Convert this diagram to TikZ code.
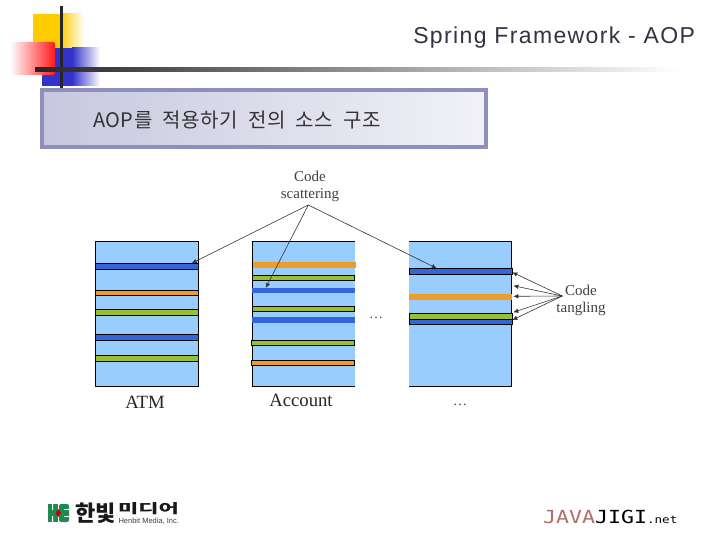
\documentclass[tikz,border=0pt]{standalone}
\usepackage{fontspec}
\setmainfont{Liberation Serif}
\newfontfamily\titlefont[LetterSpace=6]{Liberation Sans}
\newfontfamily\smallfont{Liberation Sans}
\newfontfamily\krfont[LetterSpace=3, WordSpace=2]{Noto Sans CJK KR}
\newfontfamily\logofont{Noto Sans CJK KR}
\newfontfamily\monofont{DejaVu Sans Mono}
\usetikzlibrary{arrows.meta, positioning}
\definecolor{skyfill}{HTML}{99CCFF}
\definecolor{bluebar}{HTML}{3366DD}
\definecolor{orangebar}{HTML}{F09C28}
\definecolor{greenbar}{HTML}{99C030}
\definecolor{framecol}{HTML}{8F8FBF}
\definecolor{javacol}{HTML}{B07068}
\definecolor{logogreen}{HTML}{1E8A50}
\definecolor{cornergold}{HTML}{FFCC00}
\definecolor{cornerblue}{HTML}{3333CC}
\definecolor{titlecol}{HTML}{333344}

\begin{document}
\begin{tikzpicture}[x=1pt, y=-1pt,
    every node/.style={inner sep=0pt, outer sep=0pt},
    column/.style={rectangle, fill=skyfill, minimum width=103pt, minimum height=145pt, anchor=north west},
    band/.style={rectangle, draw=black, line width=0.7pt, minimum width=103pt, anchor=north west},
    plainband/.style={band, draw=none},
    label/.style={font=\fontsize{15}{15}\selectfont, text=black!75},
    caption/.style={font=\fontsize{18.7}{19}\selectfont, text=black!85},
    arrow/.style={-{Latex[length=5pt, width=4.5pt]}, line width=0.6pt, black!80}]

  \useasboundingbox (0,0) rectangle (720,540);
  \fill[white] (0,0) rectangle (720,540);

  % corner squares
  \shade[left color=cornergold, right color=white] (60,14) rectangle (84,48);
  \fill[cornergold] (33,14) rectangle (60,48);
  \shade[left color=cornerblue, right color=white] (72,48) rectangle (100,86);
  \fill[cornerblue] (42,48) rectangle (72,86);
  \shade[rounded corners=2pt, left color=white, right color=red!90] (10,42) rectangle (55,75);
  \fill[black!85] (59.5,6) rectangle (62.5,88);
  \shade[left color=black!85, right color=white] (35,68) rectangle (680,72);

  \node[font=\titlefont\fontsize{23}{23}\selectfont, text=titlecol, anchor=east] (title) at (695,38) {Spring Framework - AOP};

  \node[rectangle, draw=framecol, line width=4pt, left color=framecol!50, right color=framecol!12, minimum width=444pt, minimum height=57pt, anchor=north west] (subject) at (42,90) {};
  \node[font=\krfont\fontsize{20}{20}\selectfont, text=black!80, anchor=west] (subjecttext) at (93,120) {AOP를 적용하기 전의 소스 구조};

  % ATM
  \node[column, draw=black, line width=0.7pt] (atm) at (95.3,241) {};
  \node[band, fill=bluebar, minimum height=6pt] (atmA) at (95.3,263.3) {};
  \node[band, fill=orangebar, minimum height=5pt] (atmB) at (95.3,290.3) {};
  \node[band, fill=greenbar, minimum height=5.6pt] (atmC) at (95.3,309.7) {};
  \node[band, fill=bluebar, minimum height=6pt] (atmD) at (95.3,334.3) {};
  \node[band, fill=greenbar, minimum height=5.6pt] (atmE) at (95.3,355.7) {};
  \node[caption] (atmlabel) at (145,402) {ATM};

  % Account
  \node[column] (account) at (252.3,241) {};
  \draw[line width=0.7pt] (355,241) -- (252.3,241) -- (252.3,386) -- (355,386);
  \node[plainband, fill=orangebar, minimum height=5.7pt] (accA) at (252.8,262.3) {};
  \node[band, fill=greenbar, minimum height=4.6pt, minimum width=102.5pt] (accB) at (252.3,275.7) {};
  \node[plainband, fill=bluebar, minimum height=5pt] (accC) at (252.3,288.3) {};
  \node[band, fill=greenbar, minimum height=5pt, minimum width=102.5pt] (accD) at (252.3,306.3) {};
  \node[plainband, fill=bluebar, minimum height=5.4pt] (accE) at (252.3,317.3) {};
  \node[band, fill=greenbar, minimum height=5.4pt] (accF) at (251.3,340.3) {};
  \node[band, fill=orangebar, minimum height=5pt] (accG) at (251.3,360.3) {};
  \node[caption] (acclabel) at (301,400) {Account};
  \node[font=\fontsize{14}{14}\selectfont, text=black!75] (dotsmid) at (376,318) {…};

  % third class
  \node[column] (third) at (409,241.5) {};
  \draw[line width=0.7pt] (409,241.5) -- (511.7,241.5) -- (511.7,386.5) -- (409,386.5);
  \node[band, fill=bluebar, minimum height=6pt] (thirdA) at (409,268.3) {};
  \node[plainband, fill=orangebar, minimum height=5.7pt] (thirdB) at (409,294) {};
  \node[band, fill=bluebar, minimum height=5.4pt] (thirdD) at (409,319.3) {};
  \node[band, fill=greenbar, minimum height=6pt] (thirdC) at (409,313.3) {};
  \node[font=\fontsize{14}{14}\selectfont, text=black!75] (dotsbottom) at (460,405) {…};

  % labels
  \node[label] (codeA) at (310,176) {Code};
  \node[label, below=7pt of codeA] (scattering) {scattering};
  \coordinate (scatterfrom) at (308.3,205);
  \node[label] (codeB) at (581,290) {Code};
  \node[label, below=7pt of codeB] (tangling) {tangling};
  \coordinate (tanglefrom) at (562.3,296);

  \coordinate (scatterA) at (191.7,263.3);
  \coordinate (scatterB) at (265.7,288);
  \coordinate (scatterC) at (436.7,268.3);
  \coordinate (tangleA) at (512.3,272.3);
  \coordinate (tangleB) at (513.3,285.7);
  \coordinate (tangleC) at (513.3,296.3);
  \coordinate (tangleD) at (513.3,312.3);
  \coordinate (tangleE) at (512.3,320);

  \draw[arrow] (scatterfrom) -- (scatterA);
  \draw[arrow] (scatterfrom) -- (scatterB);
  \draw[arrow] (scatterfrom) -- (scatterC);
  \draw[arrow] (tanglefrom) -- (tangleA);
  \draw[arrow] (tanglefrom) -- (tangleB);
  \draw[arrow] (tanglefrom) -- (tangleC);
  \draw[arrow] (tanglefrom) -- (tangleD);
  \draw[arrow] (tanglefrom) -- (tangleE);

  % logos
  \fill[logogreen] (48,504) rectangle (57.5,522);
  \fill[logogreen, rounded corners=2pt] (59,504) rectangle (69,522);
  \fill[white] (52,504) rectangle (53,510) (52,516) rectangle (53,522);
  \fill[white] (64,509) rectangle (69,509.8) (64,516) rectangle (69,516.8);
  \fill[red!80!black] (58.2,509) -- (61,513) -- (58.2,517) -- (55.5,513) -- cycle;
  \node[font=\logofont\bfseries\fontsize{22}{22}\selectfont, text=black!90, anchor=west] (hanbitA) at (75,513) {한빛};
  \node[font=\logofont\bfseries\fontsize{21}{21}\selectfont, text=black!90, anchor=west] (hanbitB) at (118,508.5) {\scalebox{1.05}[0.62]{미디어}};
  \node[font=\smallfont\fontsize{7.5}{7.5}\selectfont, text=black!75, anchor=east] (hanbiten) at (179,521.5) {Henbit Media, Inc.};
  \node[font=\monofont\fontsize{18}{18}\selectfont, anchor=west] (javajigi) at (543,517) {\scalebox{1.2}[1]{\textcolor{javacol}{JAVA}JIGI\fontsize{10.5}{10.5}\selectfont.net}};
\end{tikzpicture}
\end{document}
